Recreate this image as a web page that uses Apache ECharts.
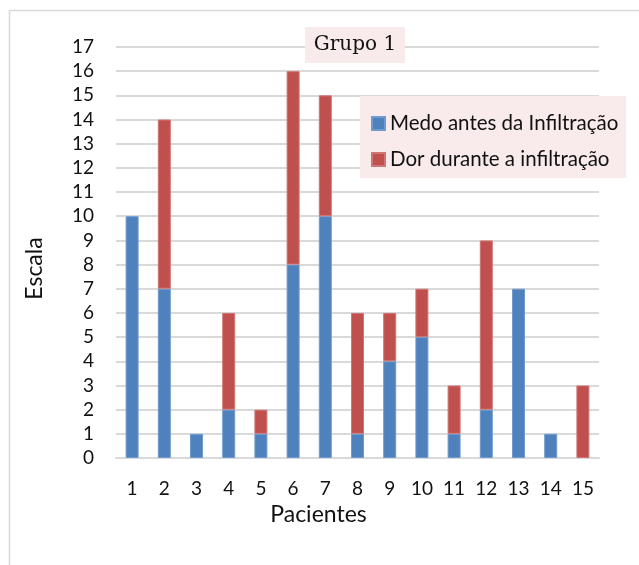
<!DOCTYPE html>
<html><head><meta charset="utf-8">
<script src="https://cdn.jsdelivr.net/npm/echarts@6/dist/echarts.min.js"></script>
<style>html,body{margin:0;padding:0;background:#fff}#c{width:639px;height:565px}</style>
</head><body><div id="c"></div>
<script>
const categories = ['1','2','3','4','5','6','7','8','9','10','11','12','13','14','15'];
const medo = [10,7,1,2,1,8,10,1,4,5,1,2,7,1,0];
const dor = [0,7,0,4,1,8,5,5,2,2,2,7,0,0,3];
const yTicks = {min:0, max:17, interval:1};
const seriesNames = ['Medo antes da Infiltração','Dor durante a infiltração'];
const nz = a => a.map(v => v === 0 ? null : v);
const chart = echarts.init(document.getElementById('c'));
const font = 'Lato, "Liberation Sans", sans-serif';
chart.setOption({
  animation:false,
  graphic:[
    {type:'rect', shape:{x:9.5,y:10.5,width:640,height:560}, style:{fill:'none',stroke:'#d9d9d9',lineWidth:1.5}, z:-1},
    {type:'rect', shape:{x:305,y:27,width:100,height:36}, style:{fill:'#f9ebeb'}, z:10},
    {type:'text', x:355, y:45, style:{text:'Grupo 1', font:'20px "DejaVu Serif", serif', fill:'#111', align:'center', verticalAlign:'middle'}, z:11},
    {type:'rect', shape:{x:360,y:96,width:266,height:82}, style:{fill:'#f9ebeb'}, z:10}
  ],
  grid:{left:116,right:40,top:47,bottom:107},
  legend:{
    data:seriesNames, orient:'vertical', left:366, top:108, itemGap:15,
    itemWidth:13, itemHeight:13, icon:'rect', z:12,
    textStyle:{fontFamily:font,fontSize:20.5,color:'#111'}
  },
  xAxis:{
    type:'category', data:categories, name:'Pacientes', nameLocation:'middle', nameGap:45,
    nameTextStyle:{fontFamily:font,fontSize:23,color:'#111',padding:[0,78,0,0]},
    axisLine:{lineStyle:{color:'#d9d9d9',width:2}}, axisTick:{show:false},
    axisLabel:{fontFamily:font,fontSize:19,color:'#111',margin:21}
  },
  yAxis:{
    type:'value', min:yTicks.min, max:yTicks.max, interval:yTicks.interval,
    name:'Escala', nameLocation:'middle', nameGap:70,
    nameTextStyle:{fontFamily:font,fontSize:23,color:'#111',padding:[0,32,0,0]},
    axisLine:{show:false}, axisTick:{show:false},
    axisLabel:{fontFamily:font,fontSize:19,color:'#111',margin:22},
    splitLine:{lineStyle:{color:'#d9d9d9',width:2}}
  },
  series:[
    {name:seriesNames[0], type:'bar', stack:'a', data:nz(medo), barWidth:13,
     itemStyle:{color:'#4f81bd', borderColor:'#6f9ad0', borderWidth:1}},
    {name:seriesNames[1], type:'bar', stack:'a', data:nz(dor), barWidth:13,
     itemStyle:{color:'#c0504d', borderColor:'#d07573', borderWidth:1}}
  ]
});
</script></body></html>
